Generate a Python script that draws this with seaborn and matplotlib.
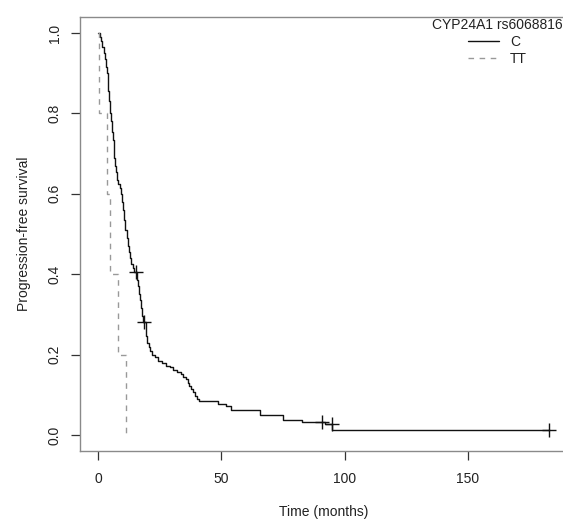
import numpy as np
import pandas as pd
import seaborn as sns
import matplotlib
matplotlib.use("Agg")
import matplotlib.pyplot as plt

# Kaplan-Meier step points (time in months, survival)
c_time = [0, 0.8, 1.3, 1.8, 2.3, 2.8, 3.2, 3.5, 3.9, 4.2, 4.6, 4.9, 5.3, 5.6,
          5.9, 6.3, 6.6, 6.9, 7.2, 7.6, 8.0, 8.8, 9.5, 9.9, 10.3, 10.7, 11.1,
          11.6, 12.0, 12.5, 13.0, 13.5, 14.0, 14.6, 15.9, 16.3, 16.8, 17.2,
          17.5, 17.8, 18.2, 19.3, 19.6, 19.9, 20.5, 21.0, 22.0, 23.0, 24.2,
          26.0, 27.5, 29.0, 30.5, 32.0, 33.5, 34.5, 35.5, 36.3, 37.0, 37.8,
          38.6, 39.4, 40.2, 41.0, 48.5, 52.0, 54.0, 65.5, 75.0, 82.5, 92.2,
          95.0, 183.0]
c_surv = [1.0, 0.99, 0.98, 0.965, 0.95, 0.935, 0.915, 0.90, 0.875, 0.855,
          0.83, 0.80, 0.78, 0.755, 0.735, 0.71, 0.69, 0.67, 0.655, 0.635,
          0.625, 0.615, 0.60, 0.58, 0.56, 0.535, 0.51, 0.49, 0.47, 0.455,
          0.44, 0.425, 0.415, 0.405, 0.385, 0.37, 0.35, 0.335, 0.315, 0.295,
          0.28, 0.265, 0.245, 0.23, 0.22, 0.21, 0.20, 0.193, 0.183, 0.178,
          0.172, 0.168, 0.162, 0.157, 0.152, 0.145, 0.138, 0.13, 0.122,
          0.115, 0.107, 0.098, 0.09, 0.085, 0.078, 0.072, 0.062, 0.05, 0.038,
          0.031, 0.027, 0.012, 0.012]

# censored observations in group C
cens_time = [15.5, 18.8, 90.6, 94.7, 183.0]
cens_surv = [0.405, 0.28, 0.031, 0.027, 0.012]

tt_time = [0, 0.4, 3.7, 5.0, 8.2, 11.5]
tt_surv = [1.0, 0.8, 0.6, 0.4, 0.2, 0.0]

group_labels = ["C", "TT"]
legend_title = "CYP24A1 rs6068816"

sns.set_style("white")
plt.rcParams["font.family"] = ["Liberation Sans", "DejaVu Sans"]
fs = 10
txt_col = "#222222"

fig = plt.figure(figsize=(5.63, 5.21), dpi=100)
ax = fig.add_axes([80 / 563, 1 - 451 / 521, (567.5 - 80) / 563, (451 - 17) / 521])

df_c = pd.DataFrame({"time": c_time, "surv": c_surv})
df_tt = pd.DataFrame({"time": tt_time, "surv": tt_surv})

sns.lineplot(data=df_c, x="time", y="surv", ax=ax, color="#111111", lw=1.0,
             drawstyle="steps-post", estimator=None, label=group_labels[0])
sns.lineplot(data=df_tt, x="time", y="surv", ax=ax, color="#999999", lw=1.0,
             drawstyle="steps-post", estimator=None, dashes=False,
             linestyle=(0, (4, 4)), label=group_labels[1])
sns.scatterplot(x=cens_time, y=cens_surv, ax=ax, marker="+", s=90,
                color="#111111", linewidth=1.0, zorder=3)

ax.set_xlim(-7.32, 190.32)
ax.set_ylim(-0.04, 1.04)
ax.set_xticks([0, 50, 100, 150])
ax.set_yticks([0.0, 0.2, 0.4, 0.6, 0.8, 1.0])
ax.set_yticklabels(["0.0", "0.2", "0.4", "0.6", "0.8", "1.0"],
                   rotation=90, va="center")
ax.tick_params(axis="both", direction="out", length=6.5, width=0.9,
               color="#333333", labelsize=fs, labelcolor=txt_col,
               bottom=True, left=True)
ax.tick_params(axis="x", pad=8.5)
ax.tick_params(axis="y", pad=6.5)
for sp in ax.spines.values():
    sp.set_color("#8a8a8a")
    sp.set_linewidth(1.0)

ax.set_xlabel("Time (months)", fontsize=fs, color=txt_col, labelpad=14)
ax.set_ylabel("Progression-free survival", fontsize=fs, color=txt_col,
              labelpad=12)

leg = ax.legend(title=legend_title, loc="upper right",
                bbox_to_anchor=(1.0, 1 - 18 / 521),
                bbox_transform=fig.transFigure, frameon=False,
                fontsize=fs, title_fontsize=fs, borderpad=0,
                borderaxespad=0, handlelength=2.2, handletextpad=0.8,
                labelspacing=0.2)
for t in leg.get_texts():
    t.set_color(txt_col)
leg.get_title().set_color(txt_col)

fig.savefig("out.png", dpi=100)
